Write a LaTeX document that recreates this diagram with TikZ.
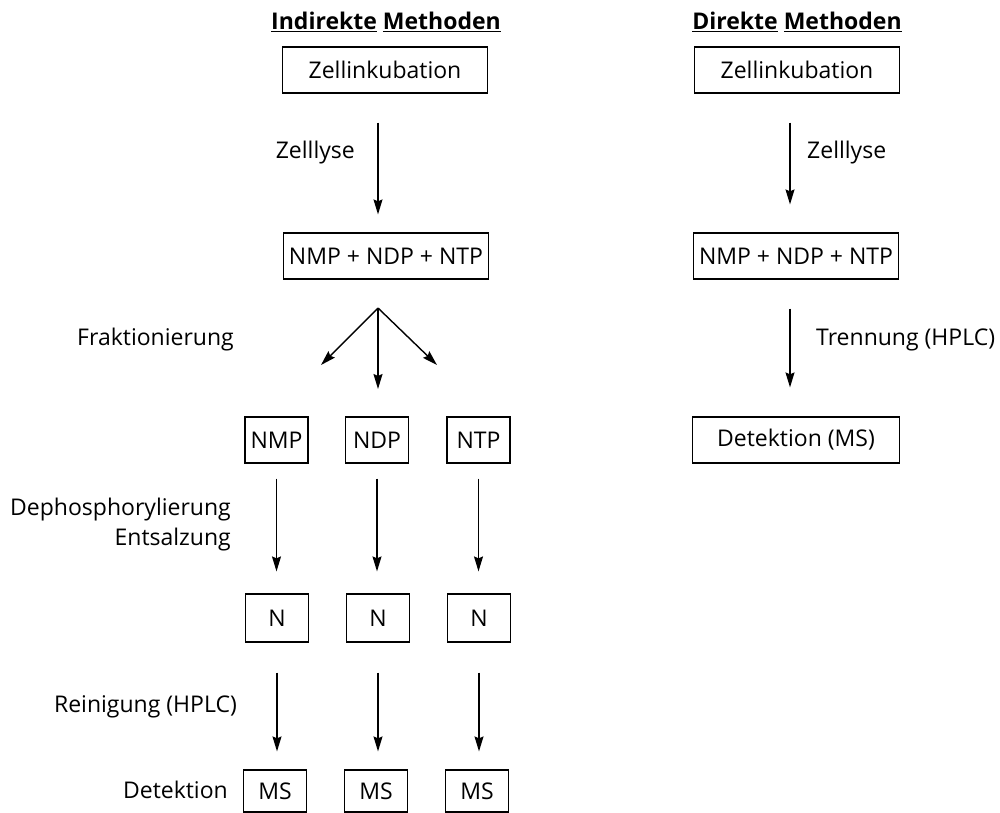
\documentclass[tikz,border=0pt]{standalone}
\usepackage{fontspec}
\setmainfont{Open Sans}
\usetikzlibrary{arrows.meta}

\begin{document}
\begin{tikzpicture}[
  x=1pt,y=-1pt,
  every node/.style={font=\fontsize{23}{30}\selectfont},
  stepbox/.style={draw=black,line width=1.2pt,minimum height=46pt,inner sep=2pt},
  widebox/.style={stepbox,minimum width=205pt},
  smallbox/.style={stepbox,minimum width=63pt},
  heading/.style={font=\fontsize{23}{30}\selectfont\bfseries},
  lbl/.style={align=right,inner sep=0pt},
  arr/.style={-{Stealth[length=15pt,width=9pt,inset=2pt]},draw=black,line width=1.4pt}
]
\useasboundingbox (0,0) rectangle (1000,812);
\node[heading] (indir) at (386,22) {\underline{Indirekte} \underline{Methoden}};
\node[heading] (dir) at (797,22) {\underline{Direkte} \underline{Methoden}};
\node[widebox] (zl) at (385,70) {Zellinkubation};
\node[widebox] (zr) at (797,70) {Zellinkubation};
\node[widebox] (nl) at (386,256) {NMP + NDP + NTP};
\node[widebox] (nr) at (796,256) {NMP + NDP + NTP};
\node[smallbox] (nmp) at (276.5,440) {NMP};
\node[smallbox] (ndp) at (377,440) {NDP};
\node[smallbox] (ntp) at (478.5,440) {NTP};
\node[widebox,minimum width=207pt] (det) at (796,440) {Detektion (MS)};
\node[smallbox,minimum height=48pt] (n1) at (277,618) {N};
\node[smallbox,minimum height=48pt] (n2) at (378,618) {N};
\node[smallbox,minimum height=48pt] (n3) at (479,618) {N};
\node[smallbox,minimum height=42pt] (ms1) at (275,791) {MS};
\node[smallbox,minimum height=42pt] (ms2) at (376,791) {MS};
\node[smallbox,minimum height=42pt] (ms3) at (477,791) {MS};
\node[lbl,anchor=east] (lyseL) at (355,153) {Zelllyse};
\node[lbl,anchor=west] (lyseR) at (807,153) {Zelllyse};
\node[lbl,anchor=east] (frak) at (234,340) {Fraktionierung};
\node[lbl,anchor=west] (trenn) at (816,340) {Trennung (HPLC)};
\node[lbl,anchor=east] (deph) at (231,525) {Dephosphorylierung\\Entsalzung};
\node[lbl,anchor=east] (rein) at (237,707) {Reinigung (HPLC)};
\node[lbl,anchor=east] (detek) at (228,790) {Detektion};
\coordinate (fork) at (378,308);
\coordinate (frL) at (321,365);
\coordinate (frM) at (378,389);
\coordinate (frR) at (437,365);
\draw[arr,shorten <=29pt,shorten >=18pt] (zl.south -| fork) -- (nl.north -| fork);
\draw[arr,shorten <=29pt,shorten >=28pt] (zr.south -| 790,0) -- (nr.north -| 790,0);
\draw[arr,shorten <=29pt,shorten >=29pt] (nr.south -| 790,0) -- (det.north -| 790,0);
\draw[arr] (fork) -- (frL);
\draw[arr] (fork) -- (frM);
\draw[arr] (fork) -- (frR);
\foreach \a/\b in {nmp/n1,ndp/n2,ntp/n3}
  \draw[arr,shorten <=15pt,shorten >=22pt] (\a.south) -- (\b.north -| \a.south);
\foreach \a/\b in {n1/ms1,n2/ms2,n3/ms3}
  \draw[arr,shorten <=30pt,shorten >=18pt] (\a.south) -- (\b.north -| \a.south);
\end{tikzpicture}
\end{document}
